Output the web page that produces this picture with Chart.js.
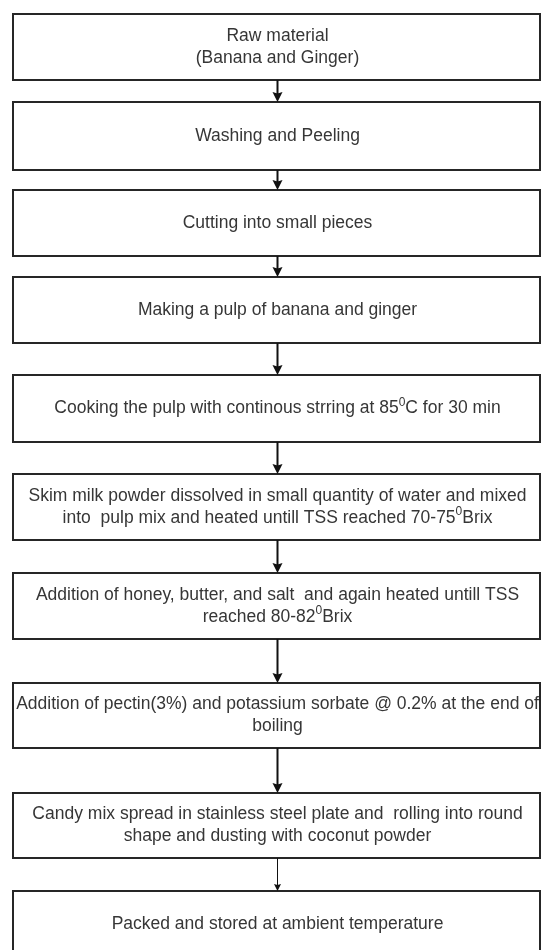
<!DOCTYPE html>
<html>
<head>
<meta charset="utf-8">
<script src="https://cdn.jsdelivr.net/npm/chart.js@4"></script>
<style>
  body { margin: 0; background: #fff; }
  canvas { display: block; }
</style>
</head>
<body>
<canvas id="flowChart" width="541" height="950"></canvas>
<script>
// steps of the process, "^" marks a superscript character
const steps = [
    ["Raw material", "(Banana and Ginger)"],
    ["Washing and Peeling"],
    ["Cutting into small pieces"],
    ["Making a pulp of banana and ginger"],
    ["Cooking the pulp with continous strring at 85^0C for 30 min"],
    ["Skim milk powder dissolved in small quantity of water and mixed", "into  pulp mix and heated untill TSS reached 70-75^0Brix"],
    ["Addition of honey, butter, and salt  and again heated untill TSS", "reached 80-82^0Brix"],
    ["Addition of pectin(3%) and potassium sorbate @ 0.2% at the end of", "boiling"],
    ["Candy mix spread in stainless steel plate and  rolling into round", "shape and dusting with coconut powder"],
    ["Packed and stored at ambient temperature"]
];

// box extents in chart units (y runs down)
const boxTop = [14, 102, 190, 277, 375, 474, 573, 683, 793, 891];
const boxBottom = [80, 170, 256, 343, 442, 540, 639, 748, 858, 957];
const boxLeft = 13;
const boxRight = 540;
const arrowX = 277.5;

// connector line weights between consecutive boxes
const arrowWeight = [2, 2, 2, 2, 2, 2, 2, 2, 1];

const arrowSets = arrowWeight.map((w, i) => ({
    type: "line",
    data: [
        { x: arrowX, y: boxBottom[i] },
        { x: arrowX, y: boxTop[i + 1] - 4 }
    ],
    borderColor: "#111",
    borderWidth: w,
    pointRadius: 0,
    showLine: true
}));

const FONT = "17.5px 'Liberation Sans', Arial, sans-serif";
const SUP_FONT = "12px 'Liberation Sans', Arial, sans-serif";

function parseLine(str) {
    const parts = [];
    let buf = "";
    for (let i = 0; i < str.length; i++) {
        if (str[i] === "^") {
            if (buf) parts.push({ t: buf, sup: false });
            buf = "";
            parts.push({ t: str[i + 1], sup: true });
            i++;
        } else {
            buf += str[i];
        }
    }
    if (buf) parts.push({ t: buf, sup: false });
    return parts;
}

function drawLine(ctx, str, cx, cy) {
    const parts = parseLine(str);
    let total = 0;
    parts.forEach(p => {
        ctx.font = p.sup ? SUP_FONT : FONT;
        p.w = ctx.measureText(p.t).width;
        total += p.w;
    });
    let x = cx - total / 2;
    parts.forEach(p => {
        ctx.font = p.sup ? SUP_FONT : FONT;
        ctx.fillText(p.t, x, p.sup ? cy - 6 : cy);
        x += p.w;
    });
}

const flowPlugin = {
    id: "flow",
    beforeDatasetsDraw(chart) {
        const { ctx, scales: { x, y } } = chart;
        ctx.save();
        ctx.lineWidth = 2;
        ctx.strokeStyle = "#262626";
        ctx.fillStyle = "#fff";
        steps.forEach((s, i) => {
            const l = x.getPixelForValue(boxLeft);
            const r = x.getPixelForValue(boxRight);
            const t = y.getPixelForValue(boxTop[i]);
            const b = y.getPixelForValue(boxBottom[i]);
            ctx.fillRect(l, t, r - l, b - t);
            ctx.strokeRect(l, t, r - l, b - t);
        });
        ctx.restore();
    },
    afterDatasetsDraw(chart) {
        const { ctx, scales: { x, y } } = chart;
        ctx.save();
        // arrow heads
        ctx.fillStyle = "#111";
        arrowWeight.forEach((w, i) => {
            const px = x.getPixelForValue(arrowX);
            const tip = y.getPixelForValue(boxTop[i + 1]);
            const hw = w > 1 ? 5 : 3.5;
            const hh = w > 1 ? 10 : 7;
            ctx.beginPath();
            ctx.moveTo(px, tip);
            ctx.lineTo(px - hw, tip - hh);
            ctx.lineTo(px, tip - hh * 0.85);
            ctx.lineTo(px + hw, tip - hh);
            ctx.closePath();
            ctx.fill();
        });
        // step labels
        ctx.fillStyle = "#363636";
        ctx.textBaseline = "middle";
        ctx.textAlign = "left";
        steps.forEach((lines, i) => {
            const cy = y.getPixelForValue((boxTop[i] + boxBottom[i]) / 2);
            const lh = 22;
            const start = cy - (lines.length - 1) * lh / 2;
            lines.forEach((ln, k) => drawLine(ctx, ln, x.getPixelForValue(arrowX), start + k * lh));
        });
        ctx.restore();
    }
};

new Chart(document.getElementById("flowChart"), {
    type: "scatter",
    data: { datasets: arrowSets },
    options: {
        responsive: false,
        animation: false,
        devicePixelRatio: 1,
        layout: { padding: 0 },
        plugins: {
            legend: { display: false },
            tooltip: { enabled: false }
        },
        scales: {
            x: { type: "linear", min: 0, max: 541, display: false },
            y: { type: "linear", min: 0, max: 950, reverse: true, display: false }
        }
    },
    plugins: [flowPlugin]
});
</script>
</body>
</html>
